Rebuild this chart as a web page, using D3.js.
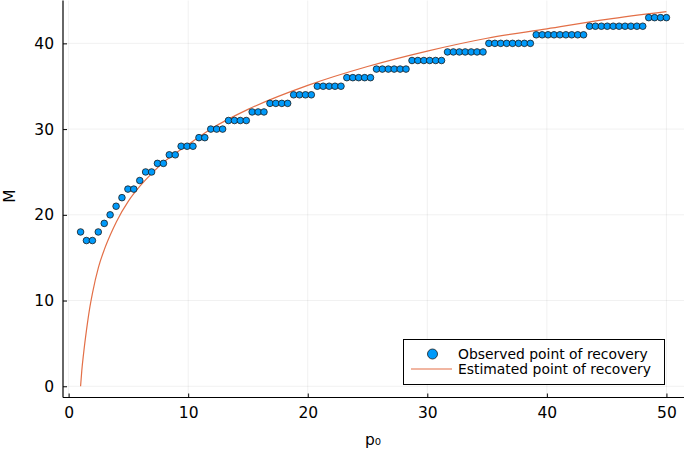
<!DOCTYPE html>
<html>
<head>
<meta charset="utf-8">
<script src="https://cdn.jsdelivr.net/npm/d3@7"></script>
<style>
  html, body { margin: 0; padding: 0; background: #fff; }
  svg { display: block; font-family: "DejaVu Sans", sans-serif; }
</style>
</head>
<body>
<svg id="chart" width="685" height="452"></svg>
<script>
// Observed points: p0 values (100 evenly spaced points from 1 to 50) and M values
const obsP = [1.00,1.49,1.99,2.48,2.98,3.47,3.97,4.46,4.96,5.45,5.95,6.44,6.94,7.43,7.93,8.42,8.92,9.41,9.91,10.40,
  10.90,11.39,11.89,12.38,12.88,13.37,13.87,14.36,14.86,15.35,15.85,16.34,16.84,17.33,17.83,18.32,18.82,19.31,19.81,20.30,
  20.80,21.29,21.79,22.28,22.78,23.27,23.77,24.26,24.76,25.25,25.75,26.24,26.74,27.23,27.73,28.22,28.72,29.21,29.71,30.20,
  30.70,31.19,31.69,32.18,32.68,33.17,33.67,34.16,34.66,35.15,35.65,36.14,36.64,37.13,37.63,38.12,38.62,39.11,39.61,40.10,
  40.60,41.09,41.59,42.08,42.58,43.07,43.57,44.06,44.56,45.05,45.55,46.04,46.54,47.03,47.53,48.02,48.52,49.01,49.51,50.00];
const obsM = [18,17,17,18,19,20,21,22,23,23,24,25,25,26,26,27,27,28,28,28,
  29,29,30,30,30,31,31,31,31,32,32,32,33,33,33,33,34,34,34,34,
  35,35,35,35,35,36,36,36,36,36,37,37,37,37,37,37,38,38,38,38,
  38,38,39,39,39,39,39,39,39,40,40,40,40,40,40,40,40,41,41,41,
  41,41,41,41,41,41,42,42,42,42,42,42,42,42,42,42,43,43,43,43];

// Estimated curve
const estP = [1,1.1,1.25,1.5,1.75,2,2.5,3,3.5,4,5,6,7,8,10,12,15,20,25,30,35,40,45,50];
const estM = [0,1.8,3.8,6.6,9.0,10.9,13.9,16.0,17.7,19.2,21.6,23.4,24.9,26.2,28.2,30.1,32.3,35.1,37.3,39.1,40.6,41.7,42.8,43.7];

const xTicks = [0,10,20,30,40,50];
const yTicks = [0,10,20,30,40];

const svg = d3.select("#chart");
const L = 63, R = 684, T = 0.5, B = 397.5;

const x = d3.scaleLinear().domain([-0.47, 51.47]).range([L, R]);
const y = d3.scaleLinear().domain([-1.31, 45.0]).range([B, T]);

// grid
const g = svg.append("g");
g.selectAll(".gx").data(xTicks).enter().append("line")
  .attr("x1", d => x(d)).attr("x2", d => x(d)).attr("y1", T).attr("y2", B)
  .attr("stroke", "#000").attr("stroke-opacity", 0.1).attr("stroke-width", 0.6);
g.selectAll(".gy").data(yTicks).enter().append("line")
  .attr("x1", L).attr("x2", R).attr("y1", d => y(d)).attr("y2", d => y(d))
  .attr("stroke", "#000").attr("stroke-opacity", 0.1).attr("stroke-width", 0.6);

// axes
const xAxis = d3.axisBottom(x).tickValues(xTicks).tickSizeInner(-4).tickSizeOuter(0).tickPadding(9);
const yAxis = d3.axisLeft(y).tickValues(yTicks).tickSizeInner(-4).tickSizeOuter(0).tickPadding(9);

const ax = svg.append("g").attr("transform", `translate(0,${B})`).call(xAxis);
ax.select(".domain").attr("d", `M${L},0H${R}`).attr("stroke", "#000").attr("stroke-width", 1.2);
ax.selectAll("text").attr("font-size", 15.5).attr("fill", "#000").attr("font-family", "DejaVu Sans");

const ay = svg.append("g").attr("transform", `translate(${L},0)`).call(yAxis);
ay.select(".domain").attr("d", `M0,${T}V${B}`).attr("stroke", "#000").attr("stroke-width", 1.2);
ay.selectAll("text").attr("font-size", 15.5).attr("fill", "#000").attr("font-family", "DejaVu Sans");

// curve
const line = d3.line().x(d => x(d[0])).y(d => y(d[1])).curve(d3.curveMonotoneX);
svg.append("path").datum(estP.map((p, i) => [p, estM[i]]))
  .attr("d", line).attr("fill", "none").attr("stroke", "#E36F47").attr("stroke-width", 1.2);

// points
svg.append("g").selectAll("circle").data(obsP.map((p, i) => [p, obsM[i]])).enter()
  .append("circle")
  .attr("cx", d => x(d[0])).attr("cy", d => y(d[1])).attr("r", 3.3)
  .attr("fill", "#009AFA").attr("stroke", "#1a1a1a").attr("stroke-width", 0.8);

// axis labels
svg.append("text").attr("x", 373).attr("y", 445).attr("text-anchor", "middle")
  .attr("font-size", 15.5).text("p₀");
svg.append("text").attr("transform", "translate(15,196) rotate(-90)").attr("text-anchor", "middle")
  .attr("font-size", 15.5).text("M");

// legend
const lg = svg.append("g");
lg.append("rect").attr("x", 403.5).attr("y", 339.5).attr("width", 261).attr("height", 45)
  .attr("fill", "#fff").attr("stroke", "#000").attr("stroke-width", 1);
lg.append("circle").attr("cx", 432.5).attr("cy", 354).attr("r", 5)
  .attr("fill", "#009AFA").attr("stroke", "#1a1a1a").attr("stroke-width", 0.8);
lg.append("line").attr("x1", 411).attr("x2", 452).attr("y1", 369).attr("y2", 369)
  .attr("stroke", "#E36F47").attr("stroke-width", 1.2);
lg.append("text").attr("x", 458).attr("y", 358.5).attr("font-size", 13.9).text("Observed point of recovery");
lg.append("text").attr("x", 458).attr("y", 373.5).attr("font-size", 13.9).text("Estimated point of recovery");
</script>
</body>
</html>
